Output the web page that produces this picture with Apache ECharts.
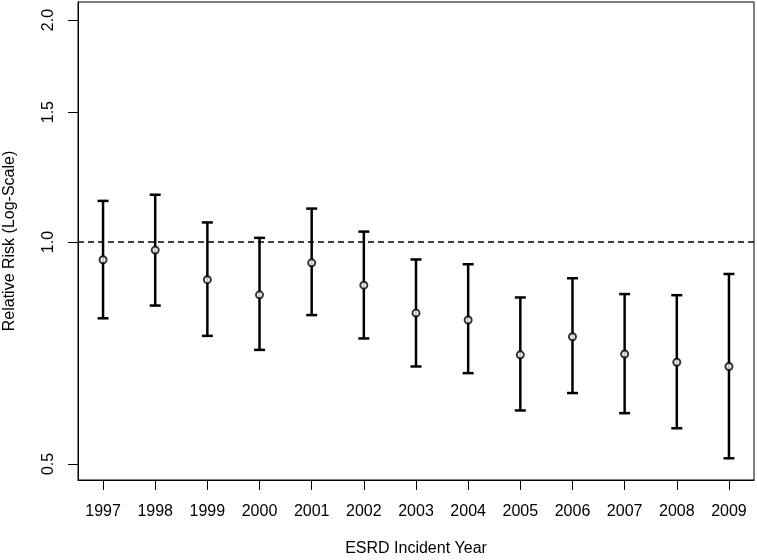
<!DOCTYPE html>
<html>
<head>
<meta charset="utf-8">
<script src="https://cdn.jsdelivr.net/npm/echarts@6/dist/echarts.min.js"></script>
<style>
  html, body { margin: 0; padding: 0; background: #fff; }
  #chart { width: 757px; height: 560px; }
</style>
</head>
<body>
<div id="chart"></div>
<script>
// values
const years = [1997, 1998, 1999, 2000, 2001, 2002, 2003, 2004, 2005, 2006, 2007, 2008, 2009]
const rrPoint = [0.946, 0.975, 0.889, 0.848, 0.937, 0.874, 0.801, 0.784, 0.703, 0.744, 0.705, 0.687, 0.678]
const rrLower = [0.788, 0.820, 0.746, 0.714, 0.796, 0.740, 0.678, 0.664, 0.591, 0.624, 0.586, 0.559, 0.509]
const rrUpper = [1.137, 1.159, 1.063, 1.013, 1.110, 1.033, 0.947, 0.933, 0.841, 0.893, 0.850, 0.847, 0.905]
const yTicks = [0.5, 1.0, 1.5, 2.0]
const refLevel = 1.0

// the y axis is log scale: plot ln(rr) and label with exp()
const ln = Math.log
const font = 'Liberation Sans, Arial, sans-serif'
const xMin = 1996.52
const xMax = 2009.48

const pointData = years.map((y, i) => [y, ln(rrPoint[i])])
const barData = years.map((y, i) => [y, ln(rrLower[i]), ln(rrUpper[i])])

const myChart = echarts.init(document.getElementById('chart'), null, { renderer: 'canvas' })

const lineStyle = { stroke: '#000', lineWidth: 2.5 }

myChart.setOption({
  animation: false,
  backgroundColor: '#fff',
  grid: {
    left: 78, right: 3, top: 2, bottom: 80,
    outerBoundsMode: 'none',
    containLabel: false,
    show: true, borderColor: '#000', borderWidth: 1
  },
  xAxis: {
    type: 'value',
    min: xMin,
    max: xMax,
    name: 'ESRD Incident Year',
    nameLocation: 'middle',
    nameGap: 61,
    nameTextStyle: { fontFamily: font, fontSize: 16, color: '#000' },
    axisLine: { show: true, onZero: false, lineStyle: { color: '#000', width: 1 } },
    axisTick: { show: true, inside: false, length: 10, customValues: years, lineStyle: { color: '#000' } },
    axisLabel: { customValues: years, margin: 24, fontFamily: font, fontSize: 16, color: '#000',
      formatter: v => String(v) },
    splitLine: { show: false }
  },
  yAxis: {
    type: 'value',
    min: -0.7431,
    max: 0.7494,
    name: 'Relative Risk (Log-Scale)',
    nameLocation: 'middle',
    nameGap: 60,
    nameRotate: 90,
    nameTextStyle: { fontFamily: font, fontSize: 16, color: '#000' },
    axisLine: { show: true, onZero: false, lineStyle: { color: '#000', width: 1 } },
    axisTick: { show: true, inside: false, length: 10, customValues: yTicks.map(ln), lineStyle: { color: '#000' } },
    axisLabel: { customValues: yTicks.map(ln), rotate: 90, margin: 21, fontFamily: font, fontSize: 16, color: '#000',
      formatter: v => Math.exp(v).toFixed(1) },
    splitLine: { show: false }
  },
  series: [
    {
      // dashed reference line at RR = 1
      type: 'line',
      data: [[xMin, ln(refLevel)], [xMax, ln(refLevel)]],
      symbol: 'none',
      silent: true,
      lineStyle: { color: '#000', width: 1.3, type: [6, 4] },
      z: 1
    },
    {
      type: 'custom',
      data: barData,
      encode: { x: 0, y: [1, 2] },
      renderItem (params, api) {
        const x = api.value(0)
        const lo = api.coord([x, api.value(1)])
        const hi = api.coord([x, api.value(2)])
        const w = 5.5
        return {
          type: 'group',
          children: [
            { type: 'line', shape: { x1: lo[0], y1: lo[1], x2: hi[0], y2: hi[1] }, style: lineStyle },
            { type: 'line', shape: { x1: lo[0] - w, y1: lo[1], x2: lo[0] + w, y2: lo[1] }, style: lineStyle },
            { type: 'line', shape: { x1: hi[0] - w, y1: hi[1], x2: hi[0] + w, y2: hi[1] }, style: lineStyle }
          ]
        }
      },
      z: 2
    },
    {
      type: 'scatter',
      data: pointData,
      symbol: 'circle',
      symbolSize: 7,
      itemStyle: { color: '#fff', borderColor: '#000', borderWidth: 2 },
      z: 3
    }
  ]
})
</script>
</body>
</html>
